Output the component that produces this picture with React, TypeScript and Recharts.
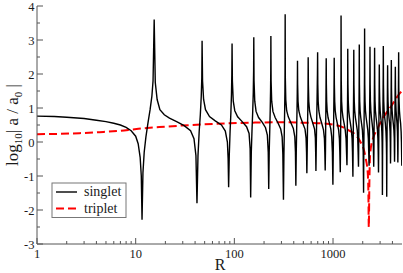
import { LineChart, Line, XAxis, YAxis } from "recharts"

// tick values
const xMajor = [1, 10, 100, 1000]
const xTicks = [
  1, 2, 3, 4, 5, 6, 7, 8, 9, 10, 20, 30, 40, 50, 60, 70, 80, 90, 100, 200, 300, 400, 500, 600, 700, 800, 900,
  1000, 2000, 3000, 4000,
]
const yTicks = [-3, -2.5, -2, -1.5, -1, -0.5, 0, 0.5, 1, 1.5, 2, 2.5, 3, 3.5, 4]

// singlet: [R, log10|a/a0|]
const singlet: [number, number][] = [
  [1, 0.76], [1.5, 0.75], [2, 0.73], [3, 0.69], [4, 0.64], [5, 0.6], [6, 0.55], [7, 0.5], [8, 0.43], [9, 0.33],
  [10, 0.17], [10.6, -0.05], [11.1, -0.45], [11.4, -1.0], [11.6, -2.29], [11.85, -0.9], [12.2, -0.3], [12.7, 0.15],
  [13.3, 0.55], [14.0, 0.95], [14.6, 1.35], [15.0, 1.8], [15.4, 3.6], [15.8, 1.75], [16.5, 1.25], [17.6, 0.95],
  [19.5, 0.8], [22, 0.7], [26, 0.6], [31, 0.48], [36, 0.33], [39, 0.1], [40.8, -0.4], [41.8, -1.8],
  [42.8, -0.4], [44, 0.3], [45.2, 0.8], [46.2, 1.35], [46.8, 1.9], [47.1, 2.98], [47.6, 1.8], [48.8, 1.25],
  [51, 0.95], [56, 0.75], [64, 0.62], [74, 0.5], [81, 0.32], [85, 0.0], [86.5, -0.5], [87.5, -1.33],
  [88.8, -0.4], [90.5, 0.3], [92.2, 0.85], [93.5, 1.4], [94.3, 2.0], [94.8, 2.9], [95.5, 1.8], [97.5, 1.2],
  [101, 0.92], [108, 0.74], [120, 0.6], [133, 0.45], [141, 0.25], [144.5, -0.2], [146.3, -1.63],
  [148.5, -0.3], [151, 0.35], [153.5, 0.9], [155.5, 1.45], [156.8, 2.1], [157.4, 3.08], [158.3, 1.8], [161, 1.2],
  [166, 0.9], [176, 0.72], [192, 0.58], [207, 0.42], [216, 0.2], [220.5, -0.3], [223, -1.38],
  [225.5, -0.3], [228.5, 0.35], [231, 0.95], [232.8, 1.5], [233.9, 2.1], [234.5, 3.12], [235.7, 1.8], [239, 1.2],
  [246, 0.9], [259, 0.72], [277, 0.56], [295, 0.38], [305, 0.15], [310, -0.35], [314.5, -1.7],
  [318, -0.35], [321, 0.35], [323.5, 0.95], [325.5, 1.5], [326.5, 2.2], [327.3, 3.76], [328.5, 1.9], [332, 1.25],
  [339, 0.92], [352, 0.74], [372, 0.58], [396, 0.4], [410, 0.15], [416, -0.3], [420, -1.29],
  [424, -0.3], [428, 0.35], [431.5, 0.95], [434, 1.45], [435.5, 1.9], [436.5, 2.39], [438, 1.7], [442, 1.2],
  [450, 0.92], [466, 0.74], [492, 0.56], [520, 0.38], [533, 0.12], [539, -0.3], [543, -0.92],
  [547, -0.3], [551, 0.35], [555, 0.95], [558, 1.5], [560, 2.49], [562.5, 1.7], [568, 1.2], [578, 0.92],
  [596, 0.74], [623, 0.56], [650, 0.38], [662, 0.12], [667, -0.3], [671, -0.85],
  [675, -0.3], [680, 0.35], [686, 0.95], [691, 1.5], [695, 2.0], [698, 2.64], [701, 1.7], [707, 1.2], [718, 0.92],
  [738, 0.72], [768, 0.55], [800, 0.36], [818, 0.1], [826, -0.3], [833, -0.84],
  [838, -0.3], [842, 0.35], [846, 0.95], [849, 1.5], [851, 2.0], [853, 2.46], [856, 1.7], [862, 1.2], [872, 0.92],
  [890, 0.72], [920, 0.55], [950, 0.38], [970, 0.15], [985, -0.3], [997, -1.26],
  [1005, -0.3], [1012, 0.35], [1018, 0.95], [1023, 1.5], [1026, 2.0], [1028, 2.48], [1032, 1.7], [1040, 1.2],
  [1053, 0.92], [1075, 0.72], [1105, 0.55], [1140, 0.35], [1160, 0.1], [1172, -0.3], [1184, -0.89],
  [1190, -0.3], [1195, 0.35], [1199, 0.95], [1203, 1.5], [1205, 2.2], [1206, 3.72], [1212, 1.8], [1222, 1.2],
  [1238, 0.92], [1262, 0.72], [1295, 0.55], [1330, 0.35], [1355, 0.1], [1370, -0.3], [1384, -0.68],
  [1390, -0.3], [1395, 0.35], [1401, 0.95], [1406, 1.5], [1408.5, 2.0], [1410, 2.74], [1416, 1.7], [1427, 1.2],
  [1443, 0.92], [1468, 0.72], [1500, 0.55], [1535, 0.35], [1560, 0.1], [1575, -0.3], [1590, -1.02],
  [1598, -0.3], [1604, 0.35], [1611, 0.95], [1617, 1.5], [1620, 2.0], [1623, 2.71], [1629, 1.7], [1641, 1.2],
  [1658, 0.92], [1685, 0.72], [1720, 0.55], [1760, 0.35], [1780, 0.1], [1796, -0.3], [1811, -0.73],
  [1818, -0.3], [1825, 0.35], [1832, 0.95], [1838, 1.5], [1842, 2.0], [1845, 2.87], [1852, 1.7], [1864, 1.2],
  [1882, 0.92], [1910, 0.72], [1945, 0.55], [1985, 0.35], [2005, 0.1], [2022, -0.3], [2040, -1.49],
  [2050, -0.3], [2060, 0.35], [2070, 0.95], [2078, 1.5], [2084, 2.0], [2089, 3.34], [2097, 1.7], [2111, 1.2],
  [2132, 0.92], [2165, 0.72], [2205, 0.55], [2250, 0.35], [2280, 0.1], [2300, -0.3], [2320, -0.7],
  [2330, -0.3], [2340, 0.35], [2350, 0.95], [2358, 1.5], [2364, 2.0], [2369, 2.8], [2378, 1.7], [2394, 1.2],
  [2418, 0.92], [2450, 0.72], [2490, 0.55], [2530, 0.35], [2555, 0.1], [2570, -0.3], [2584, -0.73],
  [2596, -0.3], [2606, 0.35], [2616, 0.95], [2625, 1.5], [2632, 2.0], [2638, 2.77], [2648, 1.7], [2665, 1.2],
  [2690, 0.92], [2730, 0.72], [2775, 0.55], [2820, 0.35], [2850, 0.1], [2870, -0.3], [2890, -0.9],
  [2902, -0.3], [2914, 0.35], [2924, 0.95], [2933, 1.5], [2939, 1.9], [2944, 2.28], [2955, 1.6], [2975, 1.2],
  [3005, 0.92], [3045, 0.72], [3090, 0.55], [3125, 0.3], [3145, 0.0], [3156, -0.4], [3166, -1.56],
  [3178, -0.4], [3192, 0.35], [3205, 0.95], [3217, 1.5], [3226, 2.0], [3233, 2.82], [3245, 1.7], [3265, 1.2],
  [3295, 0.92], [3340, 0.72], [3390, 0.55], [3440, 0.3], [3470, 0.0], [3488, -0.4], [3501, -1.61],
  [3514, -0.4], [3530, 0.35], [3545, 0.95], [3558, 1.5], [3567, 1.9], [3575, 2.26], [3588, 1.6], [3610, 1.2],
  [3645, 0.92], [3690, 0.72], [3740, 0.55], [3785, 0.3], [3805, 0.0], [3815, -0.3], [3825, -0.63],
  [3838, -0.3], [3852, 0.35], [3866, 0.95], [3880, 1.5], [3890, 1.95], [3898, 2.41], [3912, 1.6], [3935, 1.2],
  [3970, 0.92], [4020, 0.72], [4080, 0.55], [4140, 0.35], [4175, 0.1], [4190, -0.3], [4202, -0.58],
  [4216, -0.3], [4230, 0.35], [4245, 0.95], [4260, 1.5], [4271, 1.9], [4280, 2.21], [4295, 1.6], [4320, 1.2],
  [4355, 0.92], [4400, 0.72], [4450, 0.55], [4495, 0.3], [4515, 0.0], [4528, -0.3], [4539, -0.6],
  [4553, -0.3], [4568, 0.35], [4584, 0.95], [4600, 1.5], [4613, 2.0], [4624, 2.64], [4640, 1.6], [4670, 1.2],
  [4710, 0.92], [4770, 0.72], [4840, 0.55], [4900, 0.3], [4935, 0.0], [4980, -0.7],
]

// triplet: [R, log10|a/a0|]
const triplet: [number, number][] = [
  [1, 0.23], [1.7, 0.24], [2.7, 0.26], [4.3, 0.29], [6.9, 0.33], [9.4, 0.37], [13.9, 0.42], [20, 0.45],
  [28, 0.48], [50, 0.52], [90, 0.55], [162, 0.57], [290, 0.58], [463, 0.57], [745, 0.55], [1050, 0.5],
  [1270, 0.43], [1490, 0.32], [1680, 0.22], [1815, 0.1], [1935, -0.05], [2040, -0.2], [2150, -0.5],
  [2250, -0.92], [2280, -1.4], [2304, -2.5], [2335, -1.2], [2385, -0.3], [2578, 0.16], [2790, 0.36],
  [3000, 0.55], [3256, 0.74], [3600, 0.92], [3963, 1.09], [4400, 1.3], [4812, 1.45], [5000, 1.5],
]

const serif = '"Liberation Serif", "Times New Roman", "DejaVu Serif", serif'
const frame = "#555"
const ink = "#1a1a1a"

const singletData = singlet.map(([R, v]) => ({ R, v }))
const tripletData = triplet.map(([R, v]) => ({ R, v }))

const BottomTick = (props: any) => {
  const { x, y, payload } = props
  const major = xMajor.includes(payload.value)
  return (
    <g>
      <line x1={x} x2={x} y1={y} y2={y - (major ? 6 : 3)} stroke={frame} />
      {major && (
        <text x={x} y={y + 13.5} textAnchor="middle" fontFamily={serif} fontSize={12.5} fill={ink}>
          {payload.value}
        </text>
      )}
    </g>
  )
}

const TopTick = (props: any) => {
  const { x, y, payload } = props
  const major = xMajor.includes(payload.value)
  return <line x1={x} x2={x} y1={y} y2={y + (major ? 6 : 3)} stroke={frame} />
}

const LeftTick = (props: any) => {
  const { x, y, payload } = props
  const major = Number.isInteger(payload.value)
  return (
    <g>
      <line x1={x} x2={x + (major ? 6 : 3)} y1={y} y2={y} stroke={frame} />
      {major && (
        <text x={x - 2.5} y={y + 4.5} textAnchor="end" fontFamily={serif} fontSize={12.5} fill={ink}>
          {payload.value}
        </text>
      )}
    </g>
  )
}

const RightTick = (props: any) => {
  const { x, y, payload } = props
  const major = Number.isInteger(payload.value)
  return <line x1={x} x2={x - (major ? 6 : 3)} y1={y} y2={y} stroke={frame} />
}

export default function App() {
  return (
    <div style={{ position: "absolute", left: 0, top: 0, width: 403, height: 273, background: "#fff" }}>
      <LineChart width={403} height={273} margin={{ top: 6, right: 1, bottom: 0, left: 0 }}>
        <XAxis
          dataKey="R"
          type="number"
          scale="log"
          domain={[1, 5000]}
          allowDataOverflow
          ticks={xTicks}
          interval={0}
          height={29}
          tickSize={0}
          tickMargin={0}
          tickLine={false}
          axisLine={{ stroke: frame }}
          tick={BottomTick}
        />
        <XAxis
          xAxisId="top"
          orientation="top"
          dataKey="R"
          type="number"
          scale="log"
          domain={[1, 5000]}
          allowDataOverflow
          ticks={xTicks}
          interval={0}
          height={0}
          tickSize={0}
          tickMargin={0}
          tickLine={false}
          axisLine={{ stroke: frame }}
          tick={TopTick}
        />
        <YAxis
          type="number"
          domain={[-3, 4]}
          allowDataOverflow
          ticks={yTicks}
          interval={0}
          width={37}
          tickSize={0}
          tickMargin={0}
          tickLine={false}
          axisLine={{ stroke: frame }}
          tick={LeftTick}
        />
        <YAxis
          yAxisId="right"
          orientation="right"
          type="number"
          domain={[-3, 4]}
          allowDataOverflow
          ticks={yTicks}
          interval={0}
          width={0}
          tickSize={0}
          tickMargin={0}
          tickLine={false}
          axisLine={{ stroke: frame }}
          tick={RightTick}
        />
        <Line
          data={tripletData}
          dataKey="v"
          type="monotone"
          stroke="#ff0000"
          strokeWidth={2}
          strokeDasharray="8 4"
          dot={false}
          isAnimationActive={false}
        />
        <Line
          data={singletData}
          dataKey="v"
          type="linear"
          stroke="#000"
          strokeWidth={1.4}
          dot={false}
          isAnimationActive={false}
        />
      </LineChart>
      <svg
        width={403}
        height={273}
        style={{ position: "absolute", left: 0, top: 0, pointerEvents: "none" }}
      >
        <text
          x={17.5}
          y={125}
          transform="rotate(-90 17.5 125)"
          textAnchor="middle"
          fontFamily={serif}
          fontSize={17}
          fill={ink}
        >
          log
          <tspan dy={4} fontSize={11}>10</tspan>
          <tspan dy={-4}>| a / a</tspan>
          <tspan dy={4} fontSize={11}>0</tspan>
          <tspan dy={-4}> |</tspan>
        </text>
        <text x={220} y={270} textAnchor="middle" fontFamily={serif} fontSize={16} fill={ink}>
          R
        </text>
        <rect x={52} y={183} width={74} height={34.5} fill="#fff" stroke="#777" strokeWidth={1} />
        <line x1={56} x2={77} y1={192} y2={192} stroke="#000" strokeWidth={1.4} />
        <line x1={56} x2={77} y1={208.5} y2={208.5} stroke="#ff0000" strokeWidth={2} strokeDasharray="8 4" />
        <text x={84} y={196} fontFamily={serif} fontSize={14} fill={ink}>
          singlet
        </text>
        <text x={84} y={212.5} fontFamily={serif} fontSize={14} fill={ink}>
          triplet
        </text>
      </svg>
    </div>
  )
}
